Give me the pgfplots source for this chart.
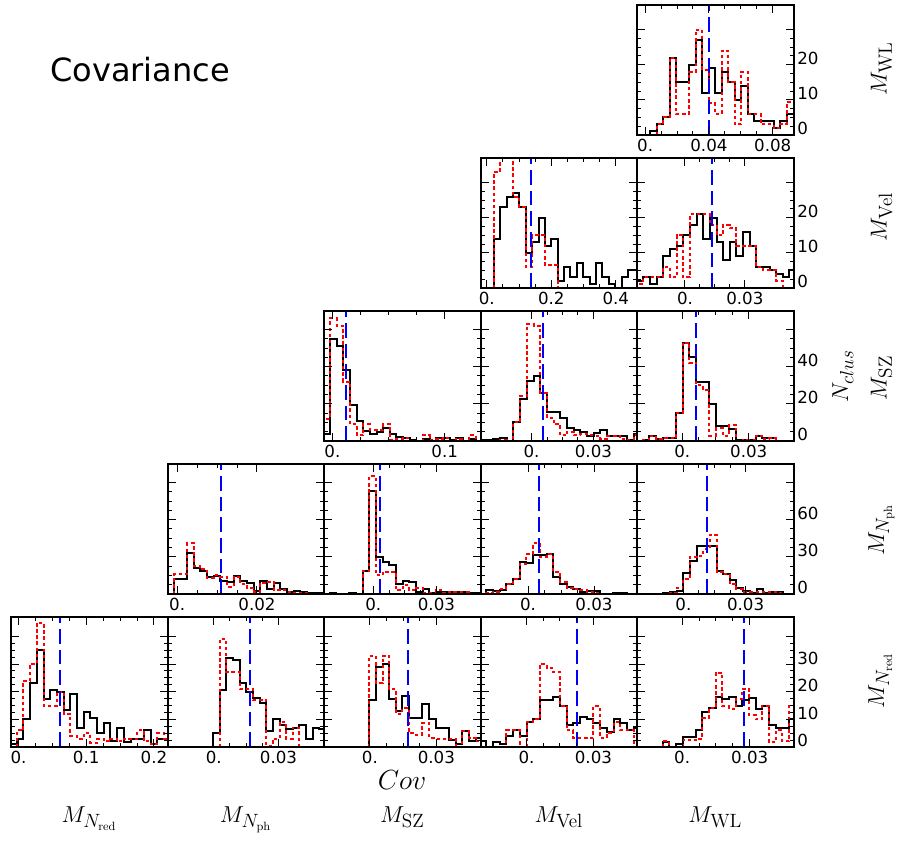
\documentclass[border=0pt]{standalone}
\usepackage{pgfplots}
\pgfplotsset{compat=1.18}
\usepackage{pgfplotstable}
\usepackage[no-math]{fontspec}
\setmainfont{DejaVu Sans}

% ---------- row 1 ----------
\pgfplotstableread{
x b r
0.0031 0 0
0.0031 1 0
0.0072 3 3
0.0113 5 5
0.0153 22 22
0.0194 15 6
0.0235 15 6
0.0276 20 18
0.0317 27 30
0.0357 12 18.5
0.0398 19 9
0.0439 12 6
0.0480 18 24
0.0521 15 15
0.0561 10 3
0.0602 14 18
0.0643 6 6
0.0684 4 6
0.0725 4 3
0.0765 4 3
0.0806 2 2
0.0847 4 3
0.0888 6 9.5
0.0970 0 0
}\tA
% ---------- row 2 ----------
\pgfplotstableread{
x b r
0.0219 0 0
0.0219 14 33
0.0417 23 45
0.0615 26 45
0.0813 27 26
0.1011 23 23
0.1209 10 6
0.1407 13 15
0.1605 20 15
0.1803 12 6.5
0.2001 14 6.5
0.2199 2 0
0.2397 6 0
0.2595 3 0
0.2793 7 0
0.2991 3 0
0.3189 1 0
0.3387 7 0
0.3585 3 0
0.3783 1 0
0.3981 0 0
0.4179 3 0
0.4377 5 0
0.4575 5 0
0.4900 0 0
}\tB
\pgfplotstableread{
x b r
-0.0242 0 0
-0.0242 2 1
-0.0209 3 3
-0.0175 1 3
-0.0142 3 3
-0.0109 9 6
-0.0076 11 3
-0.0042 12 15
-0.0009 15 3
0.0024 18 21
0.0058 21 21
0.0091 14 21
0.0124 20 18
0.0158 13 15
0.0191 8 18
0.0224 13 17
0.0258 9 12
0.0291 16 12
0.0324 12 12
0.0357 6 6
0.0391 6 5
0.0424 5 5
0.0457 4 2
0.0491 3 0
0.0524 5 0
0.0580 0 0
}\tC
% ---------- row 3 ----------
\pgfplotstableread{
x b r
-0.0080 0 0
-0.0080 4 12
-0.0021 55 66
0.0039 51 62
0.0098 38 32
0.0157 19.5 9
0.0216 11 3
0.0275 5.4 9
0.0334 3.6 6
0.0393 5 6
0.0453 7.2 9
0.0512 3.6 0.5
0.0571 2.3 1
0.0630 1.4 1.4
0.0689 0.5 0
0.0748 0 0
0.0807 1 3
0.0866 0 0.5
0.0926 1.8 1
0.0985 1.8 1.8
0.1044 0.5 0
0.1103 1.8 1
0.1162 0 0
0.1221 1 3
0.1280 0 0
0.1400 0 0
}\tD
\pgfplotstableread{
x b r
-0.0250 0 0
-0.0250 0.5 0
-0.0217 0.5 0
-0.0185 1 0
-0.0152 1.8 0.5
-0.0120 0 0
-0.0088 10 10
-0.0055 22.7 24
-0.0023 32.4 63
0.0010 35 62
0.0042 25.8 26
0.0075 15.5 12.6
0.0107 15.5 9
0.0139 12.3 3
0.0172 6.8 5
0.0204 6 3
0.0237 5 3.6
0.0269 2.9 3
0.0302 4.1 2.9
0.0334 5.8 1
0.0366 2.9 2.9
0.0399 2.9 2.9
0.0431 2.9 1
0.0464 0.5 0.5
0.0496 3.6 3
0.0560 0 0
}\tE
\pgfplotstableread{
x b r
-0.0179 0 0
-0.0179 0.5 0.5
-0.0149 2.7 2.7
-0.0119 1 1
-0.0089 1.4 1.4
-0.0059 1.4 1.4
-0.0029 15 15
0.0002 53 53
0.0032 45 42
0.0062 31.7 30
0.0092 31.7 27.5
0.0122 19.8 2.9
0.0152 8.3 6.8
0.0182 8.3 2.9
0.0212 6.5 8.6
0.0242 0.5 0
0.0272 0.5 0.5
0.0302 0.5 0.5
0.0332 2.9 2.9
0.0362 1.4 1
0.0392 1.4 1.4
0.0422 0 0
}\tF
% ---------- row 4 ----------
\pgfplotstableread{
x b r
-0.0008 0 0
-0.0008 12 16
0.0008 12 16
0.0025 33 41
0.0042 20.7 23
0.0058 18.8 20
0.0075 13.4 13
0.0092 14.2 15
0.0108 10.6 14
0.0125 9.3 6
0.0142 14.2 14
0.0158 10.6 8
0.0175 8.5 5
0.0192 2.5 2
0.0208 10.6 9
0.0225 4.4 10
0.0242 8.7 3
0.0258 4.4 3
0.0275 1.6 2
0.0292 2.5 1
0.0308 1.6 1
0.0325 0.5 0
0.0342 1 0
0.0358 1 0
0.0400 0 0
}\tG
\pgfplotstableread{
x b r
-0.0208 0 0
-0.0208 0.5 0
-0.0177 0 0
-0.0145 0 0
-0.0114 0.5 0
-0.0082 0 0
-0.0051 18.8 18.8
-0.0019 83 95
0.0013 29.7 15
0.0044 26 18
0.0076 23.5 18
0.0107 8 3
0.0139 10.6 7
0.0170 9.3 3
0.0202 1.6 5
0.0234 3.8 1
0.0265 1 1
0.0297 1.6 3
0.0328 1.6 1
0.0360 1.6 2
0.0391 1.6 2
0.0423 1.6 2
0.0455 0.5 0
0.0486 0.5 0
0.0540 0 0
}\tH
\pgfplotstableread{
x b r
-0.0190 0 0
-0.0190 3 1
-0.0160 2.2 2
-0.0129 3 4
-0.0099 8 8
-0.0068 12 12
-0.0038 26 24
-0.0008 25 32
0.0023 31.6 41
0.0053 31.6 30
0.0084 32 32
0.0114 13.4 18
0.0145 8 10
0.0175 5.7 5
0.0205 3.8 4
0.0236 1.6 3
0.0266 2.5 2
0.0297 2.5 1
0.0327 0 0
0.0358 0 0
0.0388 1 0
0.0419 1 0
0.0449 0 0
}\tI
\pgfplotstableread{
x b r
-0.0096 0 0
-0.0096 1 0
-0.0064 1.6 1
-0.0032 2.5 5
0.0000 17 12
0.0032 27 30
0.0064 38.7 31
0.0096 38.7 36
0.0128 39 48
0.0160 18.8 18
0.0192 16 16
0.0224 11 8
0.0256 5.2 4
0.0288 2.5 2
0.0321 1 2
0.0353 3.8 2
0.0385 1 2
0.0417 1.6 2
0.0449 1.6 1
0.0481 0 0
}\tJ
% ---------- row 5 ----------
\pgfplotstableread{
x b r
-0.0123 0 0
-0.0123 1 0
-0.0025 3 6
0.0074 10 24
0.0173 23 30
0.0272 35 45
0.0370 17.4 15
0.0469 20.7 15
0.0568 20 20
0.0667 13.5 12
0.0765 19 4
0.0864 7 3
0.0963 12.6 5
0.1062 10.5 1.5
0.1160 4.9 3
0.1259 8.7 2
0.1358 2 3
0.1457 7 2
0.1556 1.7 3
0.1654 3 3
0.1753 3 6
0.1852 6 2
0.1951 1 1
0.2049 3 5
0.2148 3 3
0.2300 0 0
}\tK
\pgfplotstableread{
x b r
-0.0003 0 0
-0.0003 4.9 0
0.0028 20.7 39
0.0058 32 27
0.0089 31.6 27
0.0120 23 21
0.0151 20 21
0.0182 17.7 17
0.0212 16 17
0.0243 5.7 0.5
0.0274 10 3
0.0305 8 9
0.0335 6.6 3
0.0366 7 7
0.0397 7.8 0
0.0428 3 0
0.0458 7 0
0.0489 6.5 0
0.0540 0 0
}\tL
\pgfplotstableread{
x b r
-0.0003 0 0
-0.0003 17 33
0.0027 29 23
0.0057 30 33
0.0087 17.4 21
0.0117 13 12
0.0147 18.6 14
0.0177 10.5 5
0.0207 10.5 4.5
0.0237 15.7 8.7
0.0267 10 3.3
0.0297 7 3
0.0327 7 3
0.0357 2.5 3
0.0387 1 0
0.0417 5.7 5.7
0.0447 2 3.3
0.0477 3.3 2
0.0530 0 0
}\tM
\pgfplotstableread{
x b r
-0.0210 0 0
-0.0210 2 0
-0.0180 0 0
-0.0150 1.7 0
-0.0120 1 0
-0.0090 4 6
-0.0060 6 6
-0.0030 4 0
0.0000 9 9
0.0030 10 10
0.0060 17 30
0.0090 17 28.5
0.0120 18 27
0.0150 15 15
0.0180 7.8 6
0.0210 8.7 3.3
0.0240 11 3.3
0.0270 10 3.3
0.0300 8.7 14.7
0.0330 7 3.3
0.0360 5.4 5
0.0390 10 9
0.0420 8.7 6
0.0450 6 6
0.0480 7 0
0.0530 0 0
}\tN
\pgfplotstableread{
x b r
-0.0087 0 0
-0.0087 1.7 2
-0.0058 0 0
-0.0028 1 0
0.0002 3.7 2.5
0.0031 3.7 2.5
0.0061 6 3
0.0090 12.6 10.5
0.0120 14 14
0.0149 18 26.8
0.0179 17.4 14.7
0.0208 18 13.8
0.0238 14.7 17.4
0.0267 17 21
0.0297 17.7 11.5
0.0326 13.8 10
0.0356 15 15
0.0385 8 1.7
0.0415 7 6
0.0444 7 2
0.0474 10 15
0.0530 0 0
}\tO

\pgfplotsset{
  panel/.style={
    scale only axis, width=117.4pt, height=97.5pt, anchor=north west,
    axis on top, tick align=inside, xtick pos=both, ytick pos=both,
    scaled ticks=false,
    major tick length=6pt, minor tick length=3pt,
    every tick/.style={black, line width=0.75pt},
    axis line style={line width=1.5pt},
    ymin=0, yticklabels={},
    ticklabel style={font=\fontsize{12.5}{15}\selectfont},
    /pgf/number format/assume math mode=true,
    xticklabel style={anchor=north, inner sep=3pt},
    minor x tick num=3, minor y tick num=3,
  },
  rightlab/.style={yticklabel pos=right, yticklabel style={anchor=base west, inner sep=2.5pt}},
  blk/.style={const plot, black, line width=1.5pt, no marks},
  rdd/.style={const plot, red, line width=1.5pt, dash pattern=on 2.6pt off 2pt, no marks},
  blu/.style={blue, line width=1.5pt, dash pattern=on 11pt off 4.5pt, no marks},
  r1/.style={ymax=37, ytick={0,10,20,30}},
  r3/.style={ymax=70, ytick={0,20,40,60}},
  r4/.style={ymax=105, ytick={0,30,60,90}},
  r5/.style={ymax=47, ytick={0,10,20,30,40}},
}

\begin{document}
\begin{tikzpicture}
\useasboundingbox (0,0) rectangle (672.75pt,630pt);

% ===== row 1 =====
\begin{axis}[panel, r1, rightlab, at={(477.85pt,626.25pt)},
  xmin=-0.005, xmax=0.0931, xtick={0,0.04,0.08}, xticklabels={0.,0.04,0.08},
  yticklabels={0,10,20,{}}]
\addplot[blk] table[x=x,y=b]{\tA};
\addplot[rdd] table[x=x,y=r]{\tA};
\addplot[blu] coordinates {(0.0402,0) (0.0402,37)};
\end{axis}

% ===== row 2 =====
\begin{axis}[panel, r1, at={(360.45pt,511.5pt)},
  xmin=-0.019, xmax=0.466, xtick={0,0.2,0.4}, xticklabels={0.,0.2,0.4}]
\addplot[blk] table[x=x,y=b]{\tB};
\addplot[rdd] table[x=x,y=r]{\tB};
\addplot[blu] coordinates {(0.1375,0) (0.1375,37)};
\end{axis}
\begin{axis}[panel, r1, rightlab, at={(477.85pt,511.5pt)},
  xmin=-0.024, xmax=0.0545, xtick={0,0.03}, xticklabels={0.,0.03},
  yticklabels={0,10,20,{}}]
\addplot[blk] table[x=x,y=b]{\tC};
\addplot[rdd] table[x=x,y=r]{\tC};
\addplot[blu] coordinates {(0.0133,0) (0.0133,37)};
\end{axis}

% ===== row 3 =====
\begin{axis}[panel, r3, at={(243.05pt,396.75pt)},
  xmin=-0.0074, xmax=0.132, xtick={0,0.1}, xticklabels={0.,0.1}]
\addplot[blk] table[x=x,y=b]{\tD};
\addplot[rdd] table[x=x,y=r]{\tD};
\addplot[blu] coordinates {(0.0119,0) (0.0119,70)};
\end{axis}
\begin{axis}[panel, r3, at={(360.45pt,396.75pt)},
  xmin=-0.0247, xmax=0.0512, xtick={0,0.03}, xticklabels={0.,0.03}]
\addplot[blk] table[x=x,y=b]{\tE};
\addplot[rdd] table[x=x,y=r]{\tE};
\addplot[blu] coordinates {(0.00535,0) (0.00535,70)};
\end{axis}
\begin{axis}[panel, r3, rightlab, at={(477.85pt,396.75pt)},
  xmin=-0.0204, xmax=0.0503, xtick={0,0.03}, xticklabels={0.,0.03},
  yticklabels={0,20,40,{}}]
\addplot[blk] table[x=x,y=b]{\tF};
\addplot[rdd] table[x=x,y=r]{\tF};
\addplot[blu] coordinates {(0.00615,0) (0.00615,70)};
\end{axis}

% ===== row 4 =====
\begin{axis}[panel, r4, at={(125.65pt,282pt)},
  xmin=-0.0024, xmax=0.0368, xtick={0,0.02}, xticklabels={0.,0.02}]
\addplot[blk] table[x=x,y=b]{\tG};
\addplot[rdd] table[x=x,y=r]{\tG};
\addplot[blu] coordinates {(0.0111,0) (0.0111,105)};
\end{axis}
\begin{axis}[panel, r4, at={(243.05pt,282pt)},
  xmin=-0.0234, xmax=0.051, xtick={0,0.03}, xticklabels={0.,0.03}]
\addplot[blk] table[x=x,y=b]{\tH};
\addplot[rdd] table[x=x,y=r]{\tH};
\addplot[blu] coordinates {(0.0032,0) (0.0032,105)};
\end{axis}
\begin{axis}[panel, r4, at={(360.45pt,282pt)},
  xmin=-0.0216, xmax=0.0496, xtick={0,0.03}, xticklabels={0.,0.03}]
\addplot[blk] table[x=x,y=b]{\tI};
\addplot[rdd] table[x=x,y=r]{\tI};
\addplot[blu] coordinates {(0.0049,0) (0.0049,105)};
\end{axis}
\begin{axis}[panel, r4, rightlab, at={(477.85pt,282pt)},
  xmin=-0.0223, xmax=0.0532, xtick={0,0.03}, xticklabels={0.,0.03},
  yticklabels={0,30,60,{}}]
\addplot[blk] table[x=x,y=b]{\tJ};
\addplot[rdd] table[x=x,y=r]{\tJ};
\addplot[blu] coordinates {(0.0115,0) (0.0115,105)};
\end{axis}

% ===== row 5 =====
\begin{axis}[panel, r5, at={(8.25pt,167.25pt)},
  xmin=-0.011, xmax=0.22, xtick={0,0.1,0.2}, xticklabels={0.,0.1,0.2}]
\addplot[blk] table[x=x,y=b]{\tK};
\addplot[rdd] table[x=x,y=r]{\tK};
\addplot[blu] coordinates {(0.0617,0) (0.0617,47)};
\end{axis}
\begin{axis}[panel, r5, at={(125.65pt,167.25pt)},
  xmin=-0.0214, xmax=0.0511, xtick={0,0.03}, xticklabels={0.,0.03}]
\addplot[blk] table[x=x,y=b]{\tL};
\addplot[rdd] table[x=x,y=r]{\tL};
\addplot[blu] coordinates {(0.0169,0) (0.0169,47)};
\end{axis}
\begin{axis}[panel, r5, at={(243.05pt,167.25pt)},
  xmin=-0.0207, xmax=0.05, xtick={0,0.03}, xticklabels={0.,0.03}]
\addplot[blk] table[x=x,y=b]{\tM};
\addplot[rdd] table[x=x,y=r]{\tM};
\addplot[blu] coordinates {(0.017,0) (0.017,47)};
\end{axis}
\begin{axis}[panel, r5, at={(360.45pt,167.25pt)},
  xmin=-0.0206, xmax=0.0496, xtick={0,0.03}, xticklabels={0.,0.03}]
\addplot[blk] table[x=x,y=b]{\tN};
\addplot[rdd] table[x=x,y=r]{\tN};
\addplot[blu] coordinates {(0.0225,0) (0.0225,47)};
\end{axis}
\begin{axis}[panel, r5, rightlab, at={(477.85pt,167.25pt)},
  xmin=-0.020, xmax=0.0495, xtick={0,0.03}, xticklabels={0.,0.03},
  yticklabels={0,10,20,30,{}}]
\addplot[blk] table[x=x,y=b]{\tO};
\addplot[rdd] table[x=x,y=r]{\tO};
\addplot[blu] coordinates {(0.0275,0) (0.0275,47)};
\end{axis}

% ===== texts =====
\node[font=\fontsize{24}{28}\selectfont] at (105pt,577.5pt) {Covariance};
\node[font=\fontsize{21}{24}\selectfont] at (301.5pt,45pt) {$Cov$};

\node[anchor=base, font=\fontsize{19}{22}\selectfont] at (66.9pt,13.3pt) {$M_{N_{\mathrm{red}}}$};
\node[anchor=base, font=\fontsize{19}{22}\selectfont] at (184.3pt,13.3pt) {$M_{N_{\mathrm{ph}}}$};
\node[anchor=base, font=\fontsize{19}{22}\selectfont] at (301.7pt,13.3pt) {$M_{\mathrm{SZ}}$};
\node[anchor=base, font=\fontsize{19}{22}\selectfont] at (419.1pt,13.3pt) {$M_{\mathrm{Vel}}$};
\node[anchor=base, font=\fontsize{19}{22}\selectfont] at (536.4pt,13.3pt) {$M_{\mathrm{WL}}$};

\node[rotate=90, anchor=base, font=\fontsize{19}{22}\selectfont] at (665pt,578.6pt) {$M_{\mathrm{WL}}$};
\node[rotate=90, anchor=base, font=\fontsize{19}{22}\selectfont] at (665pt,467.25pt) {$M_{\mathrm{Vel}}$};
\node[rotate=90, anchor=base, font=\fontsize{19}{22}\selectfont] at (665pt,346.5pt) {$M_{\mathrm{SZ}}$};
\node[rotate=90, anchor=base, font=\fontsize{19}{22}\selectfont] at (636pt,348pt) {$N_{clus}$};
\node[rotate=90, anchor=base, font=\fontsize{19}{22}\selectfont] at (663pt,232.5pt) {$M_{N_{\mathrm{ph}}}$};
\node[rotate=90, anchor=base, font=\fontsize{19}{22}\selectfont] at (663pt,119.25pt) {$M_{N_{\mathrm{red}}}$};
\end{tikzpicture}
\end{document}
